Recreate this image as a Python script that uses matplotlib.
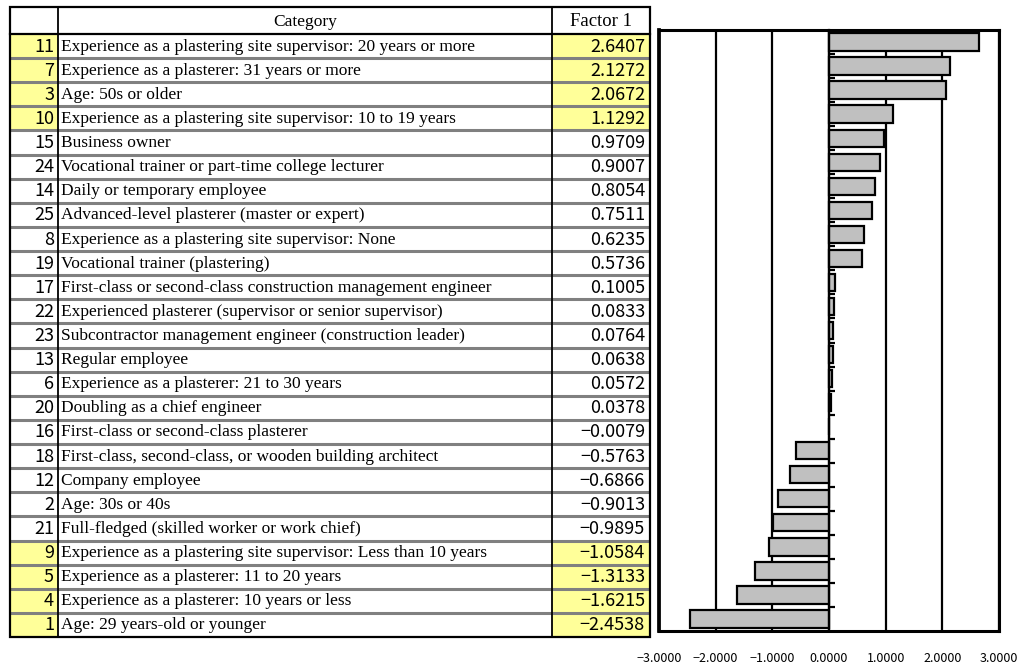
import matplotlib
matplotlib.use("Agg")
import matplotlib.pyplot as plt
from matplotlib.patches import Rectangle
from matplotlib.ticker import FixedLocator, FuncFormatter

# Factor-1 scores for each category, sorted from highest to lowest
item_no = [11, 7, 3, 10, 15, 24, 14, 25, 8, 19, 17, 22, 23, 13, 6, 20, 16, 18, 12, 2, 21, 9, 5, 4, 1]
categories = [
    "Experience as a plastering site supervisor: 20 years or more",
    "Experience as a plasterer: 31 years or more",
    "Age: 50s or older",
    "Experience as a plastering site supervisor: 10 to 19 years",
    "Business owner",
    "Vocational trainer or part-time college lecturer",
    "Daily or temporary employee",
    "Advanced-level plasterer (master or expert)",
    "Experience as a plastering site supervisor: None",
    "Vocational trainer (plastering)",
    "First-class or second-class construction management engineer",
    "Experienced plasterer (supervisor or senior supervisor)",
    "Subcontractor management engineer (construction leader)",
    "Regular employee",
    "Experience as a plasterer: 21 to 30 years",
    "Doubling as a chief engineer",
    "First-class or second-class plasterer",
    "First-class, second-class, or wooden building architect",
    "Company employee",
    "Age: 30s or 40s",
    "Full-fledged (skilled worker or work chief)",
    "Experience as a plastering site supervisor: Less than 10 years",
    "Experience as a plasterer: 11 to 20 years",
    "Experience as a plasterer: 10 years or less",
    "Age: 29 years-old or younger",
]
factor1 = [2.6407, 2.1272, 2.0672, 1.1292, 0.9709, 0.9007, 0.8054, 0.7511, 0.6235, 0.5736,
           0.1005, 0.0833, 0.0764, 0.0638, 0.0572, 0.0378, -0.0079, -0.5763, -0.6866, -0.9013,
           -0.9895, -1.0584, -1.3133, -1.6215, -2.4538]
header_labels = ["", "Category", "Factor 1"]
x_ticks = [-3, -2, -1, 0, 1, 2, 3]

W, H = 1021, 666
fig = plt.figure(figsize=(W / 100, H / 100), dpi=100)
fig.patch.set_facecolor("white")

SERIF = ["Liberation Serif", "DejaVu Serif"]
SANS = ["Noto Sans CJK JP", "DejaVu Sans"]
YELLOW = "#FFFF99"
GREY = "#808080"

def fmt(v):
    s = f"{abs(v):.4f}"
    return ("\u2212" + s) if v < 0 else s

# ---------------- table (pixel coordinates) ----------------
tb = fig.add_axes([0, 0, 1, 1])
tb.set_xlim(0, W)
tb.set_ylim(H, 0)
tb.axis("off")

x0, x1, x2, x3 = 10, 58, 552, 650
y_top, y_head = 7, 34
y_bot = 637
n = len(categories)
row_h = (y_bot - y_head) / n

for i, (no, cat, v) in enumerate(zip(item_no, categories, factor1)):
    ya = y_head + i * row_h
    yc = ya + row_h / 2 + 0.5
    if abs(v) > 1:
        tb.add_patch(Rectangle((x0, ya), x1 - x0, row_h, facecolor=YELLOW, edgecolor="none", zorder=1))
        tb.add_patch(Rectangle((x2, ya), x3 - x2, row_h, facecolor=YELLOW, edgecolor="none", zorder=1))
    tb.text(x1 - 4, yc, str(no), ha="right", va="center", fontsize=13, family=SANS, zorder=5)
    tb.text(x1 + 3, yc, cat, ha="left", va="center", fontsize=12.5, family=SERIF, zorder=5)
    tb.text(x3 - 5, yc, fmt(v), ha="right", va="center", fontsize=13, family=SANS, zorder=5)
    if i > 0:
        tb.plot([x0, x3], [ya, ya], color=GREY, lw=2.2, zorder=3, solid_capstyle="butt")

# header
hy = (y_top + y_head) / 2 + 1
tb.text((x1 + x2) / 2, hy, header_labels[1], ha="center", va="center", fontsize=12.5, family=SERIF)
tb.text((x2 + x3) / 2, hy, header_labels[2], ha="center", va="center", fontsize=13.5, family=SERIF)
tb.plot([x0, x3], [y_head, y_head], color="black", lw=1.6, zorder=4)
for xv in (x1, x2):
    tb.plot([xv, xv], [y_top, y_bot], color="black", lw=1.3, zorder=4)
tb.add_patch(Rectangle((x0, y_top), x3 - x0, y_bot - y_top, facecolor="none",
                       edgecolor="black", lw=1.6, zorder=4))

# ---------------- bar chart ----------------
pl, pr, pt, pb = 659, 999, 30, 631
ax = fig.add_axes([pl / W, 1 - pb / H, (pr - pl) / W, (pb - pt) / H])
ypos = list(range(n))
ax.barh(ypos, factor1, height=0.72, color="#C0C0C0", edgecolor="black", linewidth=1.6, zorder=3)
ax.set_xlim(x_ticks[0], x_ticks[-1])
ax.set_ylim(n - 0.5, -0.5)

ax.xaxis.set_major_locator(FixedLocator(x_ticks))
ax.xaxis.set_major_formatter(FuncFormatter(lambda v, p: fmt(v) if abs(v) > 1e-9 else "0.0000"))
ax.grid(axis="x", color="black", lw=1.6, zorder=1)
ax.tick_params(axis="x", length=0, pad=15, labelsize=9)
for lab in ax.get_xticklabels():
    lab.set_family(SANS)

# category axis crossing at zero, ticks between categories
ax.spines["left"].set_position(("data", 0))
ax.spines["left"].set_linewidth(1.6)
ax.spines["left"].set_zorder(4)
ax.yaxis.set_major_locator(FixedLocator([k + 0.5 for k in range(n - 1)]))
ax.tick_params(axis="y", direction="in", length=4, width=1.6, labelleft=False)
for side in ("top", "right", "bottom"):
    ax.spines[side].set_linewidth(2.2)
ax.plot([0, 0], [0, 1], transform=ax.transAxes, color="black", lw=2.7, clip_on=False, zorder=6)

fig.savefig("out.png", dpi=100)
